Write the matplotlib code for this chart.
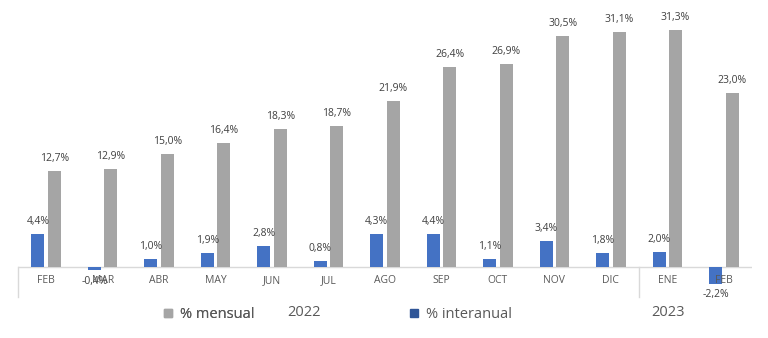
import matplotlib.pyplot as plt
from matplotlib.lines import Line2D

plt.rcParams['font.family'] = ['Open Sans', 'DejaVu Sans']

# ------------------------------------------------------------------
# Data
# ------------------------------------------------------------------
meses = ["FEB", "MAR", "ABR", "MAY", "JUN", "JUL", "AGO", "SEP", "OCT",
         "NOV", "DIC", "ENE", "FEB"]
mensual = [12.7, 12.9, 15.0, 16.4, 18.3, 18.7, 21.9, 26.4, 26.9, 30.5,
           31.1, 31.3, 23.0]
interanual = [4.4, -0.4, 1.0, 1.9, 2.8, 0.8, 4.3, 4.4, 1.1, 3.4, 1.8,
              2.0, -2.2]
anios = ["2022", "2023"]

gris = "#A5A5A5"
azul = "#4472C4"
texto = "#404040"
eje = "#D9D9D9"

fig = plt.figure(figsize=(7.68, 3.38), dpi=100)
ax = fig.add_axes([18 / 768, 0.1207, 734 / 768, 0.8725])

x = list(range(len(meses)))
w = 0.23
off = 0.146
xb = [i - off for i in x]
xg = [i + off for i in x]

ax.bar(xb, interanual, width=w, color=azul, zorder=2)
ax.bar(xg, mensual, width=w, color=gris, zorder=2)

def fmt(v):
    return f"{v:.1f}%".replace(".", ",")

for xi, v in zip(xb, interanual):
    if v >= 0:
        ax.annotate(fmt(v), (xi, v), xytext=(0, 5), textcoords="offset points",
                    ha="center", va="bottom", fontsize=7.5, color=texto)
    else:
        ax.annotate(fmt(v), (xi, v), xytext=(0, -4), textcoords="offset points",
                    ha="center", va="top", fontsize=7.5, color=texto)

for xi, v in zip(xg, mensual):
    ax.annotate(fmt(v), (xi, v), xytext=(0, 5), textcoords="offset points",
                ha="center", va="bottom", fontsize=7.5, color=texto)

# category labels below the baseline
for i, m in enumerate(meses):
    ax.annotate(m, (i, 0), xytext=(0, -10), textcoords="offset points",
                ha="center", va="center", fontsize=7.5, color="#595959")

ax.axhline(0, color=eje, lw=1, zorder=1)
for xs in [-0.5, 10.5]:
    ax.plot([xs, xs], [0, -4], color=eje, lw=1, clip_on=False)

ax.set_xlim(-0.5, 12.5)
ax.set_ylim(-4, 35)
ax.axis("off")

# year labels
fig.text(304 / 768, 1 - 313 / 338, anios[0], ha="center", va="center",
         fontsize=10.5, color="#595959")
fig.text(668 / 768, 1 - 312 / 338, anios[1], ha="center", va="center",
         fontsize=10.5, color="#595959")

# legends
h1 = [Line2D([], [], marker="s", ls="", color=gris, markersize=5.5)]
h2 = [Line2D([], [], marker="s", ls="", color="#2F5597", markersize=5.5)]
leg1 = fig.legend(h1, ["% mensual"], loc="center left",
                  bbox_to_anchor=(162 / 768, 1 - 315 / 338), frameon=False,
                  fontsize=10.5, labelcolor="#595959", handlelength=0.8,
                  handletextpad=0.4, borderpad=0, borderaxespad=0)
leg2 = fig.legend(h2, ["% interanual"], loc="center left",
                  bbox_to_anchor=(408 / 768, 1 - 315 / 338), frameon=False,
                  fontsize=10.5, labelcolor="#595959", handlelength=0.8,
                  handletextpad=0.4, borderpad=0, borderaxespad=0)
fig.add_artist(leg1)

fig.savefig("out.png", dpi=100)
plt.close()
